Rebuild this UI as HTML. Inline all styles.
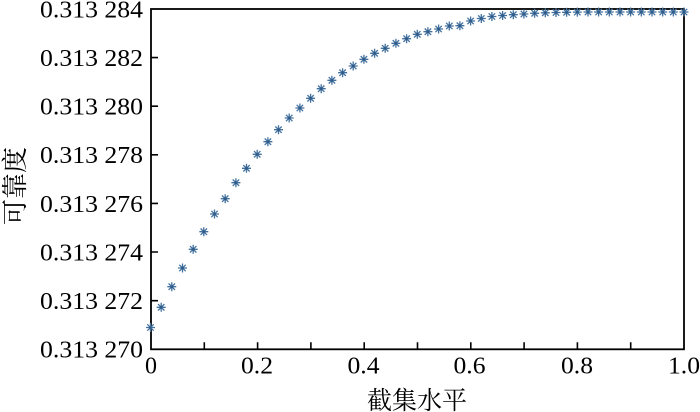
<!DOCTYPE html>
<html>
<head>
<meta charset="utf-8">
<style>
html,body{margin:0;padding:0;background:#fff;}
svg{display:block;}
</style>
</head>
<body>
<svg width="700" height="412" viewBox="0 0 700 412" xmlns="http://www.w3.org/2000/svg">
<defs>
<marker id="ast" viewBox="-5 -5 10 10" refX="0" refY="0" markerWidth="10" markerHeight="10" markerUnits="userSpaceOnUse" orient="0" overflow="visible">
<g stroke="#44729f" stroke-width="1.3" fill="none">
<path d="M-4.5 0H4.5M0 -4.5V4.5M-3.2 -3.2L3.2 3.2M-3.2 3.2L3.2 -3.2"/>
<circle r="1.3" fill="#2f5a88" stroke="none"/>
</g>
</marker>
</defs>

<rect x="151" y="9" width="533" height="340.3" fill="none" stroke="#000" stroke-width="1.8"/>

<path stroke="#000" stroke-width="1.6" fill="none" d="M151 57.6h7M151 106.2h7M151 154.8h7M151 203.4h7M151 252h7M151 300.7h7M204.3 349.3v-7M257.6 349.3v-7M310.9 349.3v-7M364.2 349.3v-7M417.5 349.3v-7M470.8 349.3v-7M524.1 349.3v-7M577.4 349.3v-7M630.7 349.3v-7"/>

<g font-family="'Liberation Serif', 'Times New Roman', serif" font-size="24" fill="#000" text-anchor="end">
<text x="143" y="17.5" textLength="103" lengthAdjust="spacingAndGlyphs">0.313 284</text>
<text x="143" y="66" textLength="103" lengthAdjust="spacingAndGlyphs">0.313 282</text>
<text x="143" y="114.6" textLength="103" lengthAdjust="spacingAndGlyphs">0.313 280</text>
<text x="143" y="163.2" textLength="103" lengthAdjust="spacingAndGlyphs">0.313 278</text>
<text x="143" y="211.8" textLength="103" lengthAdjust="spacingAndGlyphs">0.313 276</text>
<text x="143" y="260.4" textLength="103" lengthAdjust="spacingAndGlyphs">0.313 274</text>
<text x="143" y="309.1" textLength="103" lengthAdjust="spacingAndGlyphs">0.313 272</text>
<text x="143" y="357.7" textLength="103" lengthAdjust="spacingAndGlyphs">0.313 270</text>
</g>

<g font-family="'Liberation Serif', 'Times New Roman', serif" font-size="24" fill="#000" text-anchor="middle">
<text x="151" y="373.5">0</text>
<text x="257" y="373.5" textLength="32" lengthAdjust="spacingAndGlyphs">0.2</text>
<text x="363.5" y="373.5" textLength="32" lengthAdjust="spacingAndGlyphs">0.4</text>
<text x="469.5" y="373.5" textLength="32" lengthAdjust="spacingAndGlyphs">0.6</text>
<text x="577" y="373.5" textLength="32" lengthAdjust="spacingAndGlyphs">0.8</text>
<text x="684" y="373.5" textLength="32" lengthAdjust="spacingAndGlyphs">1.0</text>
</g>

<text font-family="'Noto Serif CJK SC', 'Noto Sans CJK SC', serif" font-size="25" fill="#000" x="417" y="409" text-anchor="middle">截集水平</text>
<text font-family="'Noto Serif CJK SC', 'Noto Sans CJK SC', serif" font-size="26" fill="#000" transform="translate(24,186) rotate(-90)" text-anchor="middle">可靠度</text>

<path fill="none" stroke="none" marker-start="url(#ast)" marker-mid="url(#ast)" marker-end="url(#ast)" d="M150.5 327.5L161.2 307.3L171.8 286.7L182.5 268L193.2 249.3L203.8 231.7L214.5 214L225.2 198.7L235.9 182.7L246.5 168.3L257.2 154.3L267.9 141.7L278.5 129.7L289.2 118L299.9 108L310.6 98.3L321.2 88.7L331.9 80.3L342.6 72.7L353.2 66L363.9 59.3L374.6 53.3L385.2 48.3L395.9 43.3L406.6 38.7L417.3 34.3L427.9 31.7L438.6 29L449.3 26L459.9 25.7L470.6 21L481.3 18.5L491.9 16.5L502.6 15.5L513.3 14.7L523.9 14L534.6 13.3L545.3 12.8L556 12.5L566.6 12.3L577.3 12.1L588 12L598.6 12L609.3 12L620 12L630.6 12L641.3 12L652 12L662.7 12L673.3 12L684 12"/>
</svg>
</body>
</html>
